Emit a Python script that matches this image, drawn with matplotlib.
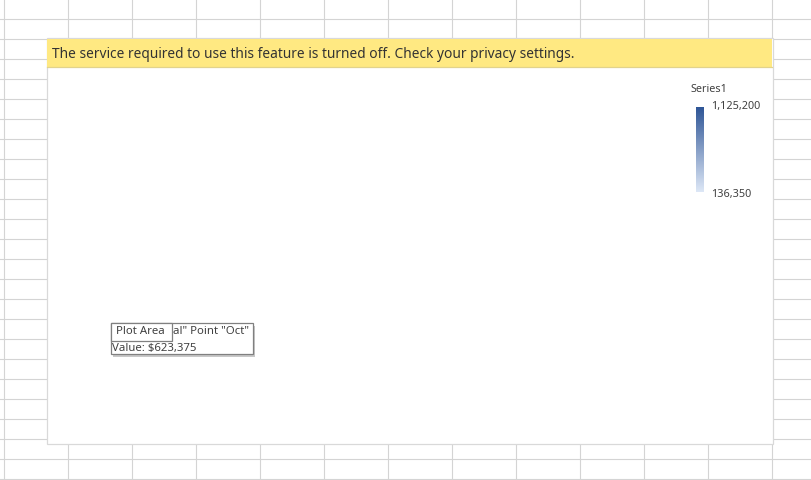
import numpy as np
import matplotlib
matplotlib.use("Agg")
import matplotlib.pyplot as plt
from matplotlib.patches import Rectangle
from matplotlib.colors import LinearSegmentedColormap, Normalize
from matplotlib.colorbar import ColorbarBase

# data shown on the chart
series_name = "Series1"
legend_min = 136350
legend_max = 1125200
tip_point = "Oct"
tip_value = 623375
banner_msg = "The service required to use this feature is turned off. Check your privacy settings."

plt.rcParams['font.family'] = ['Noto Sans', 'DejaVu Sans']

W, H = 812, 480
fig = plt.figure(figsize=(W / 100, H / 100), dpi=100)
ax = fig.add_axes([0, 0, 1, 1])
ax.set_xlim(0, W)
ax.set_ylim(H, 0)
ax.axis('off')

# spreadsheet grid behind the chart
grid = '#D4D4D4'
for y in np.arange(18, H, 20):
    ax.plot([0, W], [y + 0.5, y + 0.5], color=grid, lw=0.8, zorder=1)
for x in np.arange(4, W, 64):
    ax.plot([x + 0.5, x + 0.5], [0, H], color=grid, lw=0.8, zorder=1)

# chart area
ax.add_patch(Rectangle((47, 38), 726, 406, facecolor='white', edgecolor='#D9D9D9', lw=0.9, zorder=2))

# yellow warning banner
ax.add_patch(Rectangle((47.5, 38.5), 725, 28.5, facecolor='#FFE982', edgecolor='none', zorder=3))
ax.plot([47.5, 772.5], [67, 67], color='#E2D38C', lw=0.9, zorder=3)
ax.text(52, 54, banner_msg, fontsize=9.9, color='#333333', va='center', ha='left', zorder=4)

# legend
txt = dict(fontsize=7.8, color='#404040', va='center', ha='left', zorder=4)
ax.text(691, 89, series_name, **txt)
ax.text(711, 106.5, f"{legend_max:,}", **txt)
ax.text(711, 194.5, f"{legend_min:,}", **txt)

cmap = LinearSegmentedColormap.from_list('blues', ['#DDE7F6', '#2E5596'])
cax = fig.add_axes([696 / W, 1 - 192 / H, 8 / W, 85 / H])
cb = ColorbarBase(cax, cmap=cmap, norm=Normalize(legend_min, legend_max), orientation='vertical')
cb.outline.set_visible(False)
cax.set_xticks([])
cax.set_yticks([])

# tooltip with shadow
tip = dict(fontsize=8.2, color='#404040', va='center', ha='left')
ax.add_patch(Rectangle((113, 326), 142, 31, facecolor='#C8C8C8', edgecolor='none', zorder=5))
ax.add_patch(Rectangle((111, 323), 142, 31, facecolor='white', edgecolor='#808080', lw=0.9, zorder=6))
# the start of the first line is hidden under the "Plot Area" box
ax.text(173, 332, f'al" Point "{tip_point}"', zorder=7, **tip)
ax.text(112, 348, f"Value: ${tip_value:,}", zorder=7, **tip)
ax.add_patch(Rectangle((111, 323), 61, 18, facecolor='white', edgecolor='#808080', lw=0.9, zorder=8))
ax.text(116, 332, "Plot Area", zorder=9, **tip)

fig.savefig('out.png', dpi=100)
